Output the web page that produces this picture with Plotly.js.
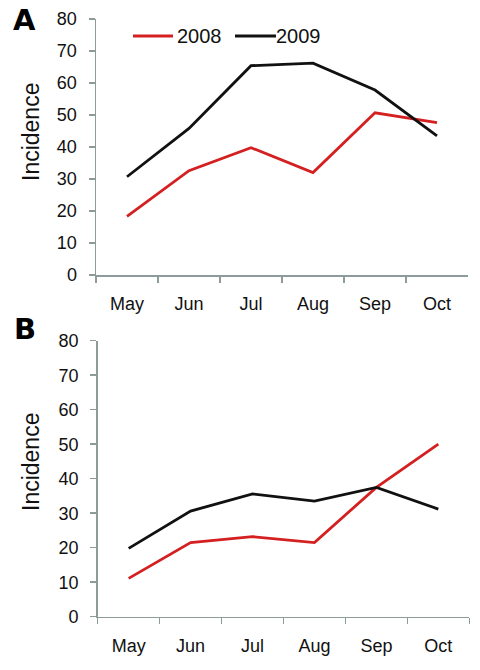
<!DOCTYPE html>
<html>
<head>
<meta charset="utf-8">
<script src="https://cdn.plot.ly/plotly-3.0.1.min.js"></script>
<style>html,body{margin:0;padding:0;background:#fff;}#chart{width:480px;height:670px;}</style>
</head>
<body>
<div id="chart"></div>
<script>
const months = ["May", "Jun", "Jul", "Aug", "Sep", "Oct"];
const seriesNames = ["2008", "2009"];
const panelA2008 = [18.3, 32.6, 39.8, 32.0, 50.7, 47.6];
const panelA2009 = [30.7, 45.8, 65.4, 66.2, 57.8, 43.5];
const panelB2008 = [11.1, 21.5, 23.2, 21.5, 37.5, 50.0];
const panelB2009 = [19.8, 30.6, 35.6, 33.5, 37.5, 31.2];
const yTicks = [0, 10, 20, 30, 40, 50, 60, 70, 80];
const panelLabels = ["A", "B"];
const yTitle = "Incidence";

const red = "#d42020", black = "#111111", axisCol = "#8d9b9b";
const font = "Liberation Sans, Arial, sans-serif";

const traces = [
  {x: months, y: panelA2008, name: seriesNames[0], mode: "lines", line: {color: red, width: 2.8}, xaxis: "x", yaxis: "y", showlegend: false},
  {x: months, y: panelA2009, name: seriesNames[1], mode: "lines", line: {color: black, width: 2.8}, xaxis: "x", yaxis: "y", showlegend: false},
  {x: months, y: panelB2008, name: seriesNames[0], mode: "lines", line: {color: red, width: 2.8}, xaxis: "x2", yaxis: "y2", showlegend: false},
  {x: months, y: panelB2009, name: seriesNames[1], mode: "lines", line: {color: black, width: 2.8}, xaxis: "x2", yaxis: "y2", showlegend: false}
];

function xax(domain, anchor) {
  return {domain: domain, anchor: anchor, type: "category", range: [-0.5, 5.5],
    showline: true, linecolor: axisCol, linewidth: 1.5, ticks: "outside", ticklen: 6,
    tickcolor: axisCol, tickwidth: 1.5, tickson: "boundaries", showgrid: false, zeroline: false,
    tickfont: {family: font, size: 18, color: "#111"}, ticklabelstandoff: 12, fixedrange: true};
}
function yax(domain, anchor) {
  return {domain: domain, anchor: anchor, range: [0, 80], tickvals: yTicks,
    showline: true, linecolor: axisCol, linewidth: 1.5, ticks: "outside", ticklen: 6,
    tickcolor: axisCol, tickwidth: 1.5, showgrid: false, zeroline: false,
    tickfont: {family: font, size: 18, color: "#111"}, ticklabelstandoff: 8, fixedrange: true};
}

const H = 670, W = 480;
const layout = {
  width: W, height: H, margin: {l: 0, r: 0, t: 0, b: 0},
  paper_bgcolor: "#fff", plot_bgcolor: "#fff", showlegend: false,
  xaxis: xax([96 / W, 468 / W], "y"),
  yaxis: yax([1 - 275 / H, 1 - 19 / H], "x"),
  xaxis2: xax([97.7 / W, 469.3 / W], "y2"),
  yaxis2: yax([1 - 616.7 / H, 1 - 340.7 / H], "x2"),
  annotations: [
    {text: "<b>" + panelLabels[0] + "</b>", xref: "paper", yref: "paper", x: 24 / W, y: 1 - 20 / H, xanchor: "center", yanchor: "middle", showarrow: false, font: {family: "DejaVu Sans, sans-serif", size: 29, color: "#000"}},
    {text: "<b>" + panelLabels[1] + "</b>", xref: "paper", yref: "paper", x: 25 / W, y: 1 - 329 / H, xanchor: "center", yanchor: "middle", showarrow: false, font: {family: "DejaVu Sans, sans-serif", size: 29, color: "#000"}},
    {text: yTitle, xref: "paper", yref: "paper", x: 31 / W, y: 1 - 132 / H, textangle: -90, xanchor: "center", yanchor: "middle", showarrow: false, font: {family: font, size: 23, color: "#111"}},
    {text: yTitle, xref: "paper", yref: "paper", x: 31 / W, y: 1 - 462 / H, textangle: -90, xanchor: "center", yanchor: "middle", showarrow: false, font: {family: font, size: 23, color: "#111"}},
    {text: seriesNames[0], xref: "paper", yref: "paper", x: 175 / W, y: 1 - 36 / H, xanchor: "left", yanchor: "middle", showarrow: false, font: {family: font, size: 20, color: "#111"}},
    {text: seriesNames[1], xref: "paper", yref: "paper", x: 274 / W, y: 1 - 36 / H, xanchor: "left", yanchor: "middle", showarrow: false, font: {family: font, size: 20, color: "#111"}}
  ],
  shapes: [
    {type: "line", xref: "paper", yref: "paper", x0: 133 / W, x1: 173 / W, y0: 1 - 36 / H, y1: 1 - 36 / H, line: {color: red, width: 2.8}},
    {type: "line", xref: "paper", yref: "paper", x0: 235 / W, x1: 276 / W, y0: 1 - 36 / H, y1: 1 - 36 / H, line: {color: black, width: 2.8}}
  ]
};

Plotly.newPlot("chart", traces, layout, {staticPlot: true, displayModeBar: false});
</script>
</body>
</html>
